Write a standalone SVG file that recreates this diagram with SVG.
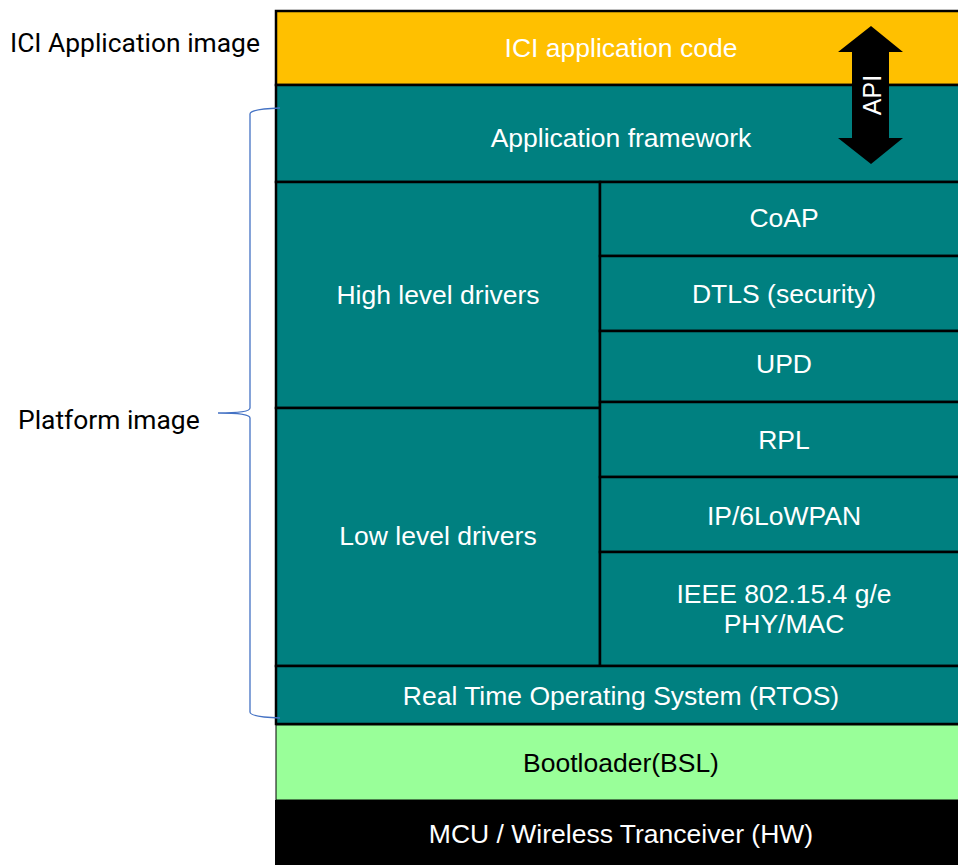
<svg xmlns="http://www.w3.org/2000/svg" width="958" height="865" viewBox="0 0 958 865">
<style>
.t{font-family:"Liberation Sans",Arial,sans-serif;font-size:26.5px;fill:#fff;text-anchor:middle}
.l{font-family:Roboto,"Liberation Sans",sans-serif;font-size:26.4px;fill:#000}
.b{stroke:#000;stroke-width:2.5}
.teal{fill:#008080}
</style>
<rect width="958" height="865" fill="#fff"/>
<g id="app-code"><rect class="b" x="276" y="11" width="692" height="74" fill="#FFC000"/><text class="t" x="621" y="56.5">ICI application code</text></g>
<g id="framework"><rect class="b teal" x="276" y="85" width="692" height="97"/><text class="t" x="621" y="146.5">Application framework</text></g>
<g id="high"><rect class="b teal" x="276" y="182" width="324" height="226"/><text class="t" x="438" y="303.5">High level drivers</text></g>
<g id="low"><rect class="b teal" x="276" y="408" width="324" height="258"/><text class="t" x="438" y="544.5">Low level drivers</text></g>
<g id="coap"><rect class="b teal" x="600" y="182" width="368" height="74"/><text class="t" x="784" y="226.5">CoAP</text></g>
<g id="dtls"><rect class="b teal" x="600" y="256" width="368" height="75"/><text class="t" x="784" y="302.5">DTLS (security)</text></g>
<g id="upd"><rect class="b teal" x="600" y="331" width="368" height="71"/><text class="t" x="784" y="372.5">UPD</text></g>
<g id="rpl"><rect class="b teal" x="600" y="402" width="368" height="75"/><text class="t" x="784" y="448.5">RPL</text></g>
<g id="ip"><rect class="b teal" x="600" y="477" width="368" height="75"/><text class="t" x="784" y="524.5">IP/6LoWPAN</text></g>
<g id="ieee"><rect class="b teal" x="600" y="552" width="368" height="114"/><text class="t" x="784" y="602.5">IEEE 802.15.4 g/e</text><text class="t" x="784" y="632.5">PHY/MAC</text></g>
<g id="rtos"><rect class="b teal" x="276" y="666" width="692" height="58"/><text class="t" x="621" y="704.5">Real Time Operating System (RTOS)</text></g>
<g id="bsl"><rect x="276" y="725" width="692" height="75" fill="#99FF99" stroke="#000" stroke-width="1"/><text class="t" x="621" y="771.5" style="fill:#000">Bootloader(BSL)</text></g>
<g id="mcu"><rect x="275" y="800" width="693" height="65" fill="#000"/><text class="t" x="621" y="842.5">MCU / Wireless Tranceiver (HW)</text></g>
<g id="api"><polygon points="871,26 903,52 889,52 889,138 903,138 871,164 838,138 852,138 852,52 838,52" fill="#000"/><text class="t" style="font-size:25px" transform="translate(881,95) rotate(-90)">API</text></g>
<g id="labels"><text class="l" x="10" y="51.5">ICI Application image</text><text class="l" x="18" y="428.5">Platform image</text></g>
<g id="connectors"><path d="M280,108 Q250,109 250,114 L250,408 Q250,413 218,413 Q250,413 250,418 L250,712 Q250,717 280,718" fill="none" stroke="#4472C4" stroke-width="1.3"/></g>
</svg>
